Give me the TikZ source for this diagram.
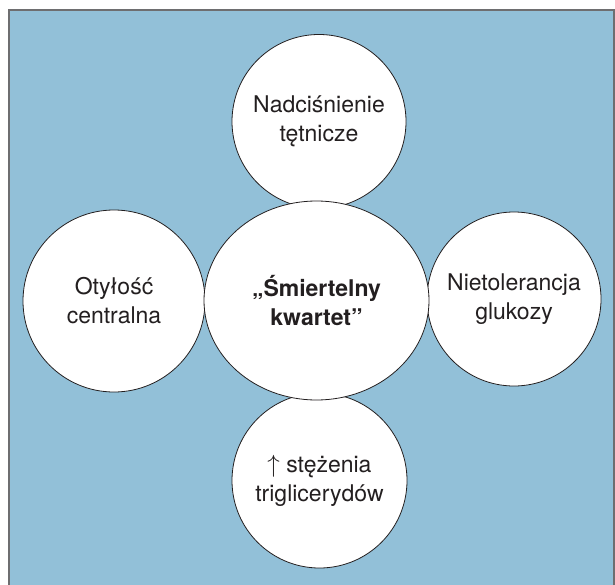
\documentclass[tikz,border=0pt]{standalone}
\usepackage{fontspec}
\usetikzlibrary{shapes.geometric}
\setmainfont{TeX Gyre Heros}
\definecolor{bgblue}{RGB}{146,192,216}
\definecolor{framegray}{RGB}{110,110,112}
\definecolor{txt}{RGB}{35,31,32}
\tikzset{
  bubble/.style={circle, draw=txt, line width=0.8pt, fill=white, inner sep=0pt,
    minimum size=174pt, align=center, text=txt,
    font=\fontsize{23}{29}\selectfont},
  hub/.style={ellipse, draw=txt, line width=0.8pt, fill=white, inner sep=0pt,
    minimum width=225pt, minimum height=199pt, align=center, text=txt,
    font=\fontsize{23}{29}\selectfont\bfseries},
}
\begin{document}
\begin{tikzpicture}[x=1pt,y=-1pt]
\useasboundingbox (0,0) rectangle (615,585);
\fill[bgblue] (9,10) rectangle (614,600);
\draw[framegray, line width=1.6pt] (9,600) -- (9,10) -- (614,10) -- (614,600);
\node[bubble] (top) at (319,121.5) {Nadciśnienie\\tętnicze};
\node[bubble, minimum size=182pt] (left) at (114,301) {Otyłość\\centralna};
\node[bubble] (right) at (514,299) {Nietolerancja\\glukozy};
\node[bubble, minimum size=175pt] (bottom) at (319.5,480.5) {$\uparrow$ stężenia\\triglicerydów};
\node[hub] (center) at (316.5,300.5) {„Śmiertelny\\kwartet”};
\end{tikzpicture}
\end{document}
